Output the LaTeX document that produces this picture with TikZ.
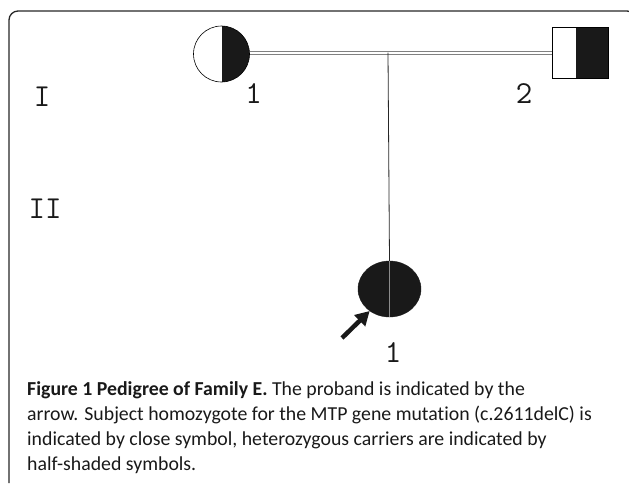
\documentclass[tikz,border=0pt]{standalone}
\usepackage{fontspec}
\setsansfont[Ligatures=NoCommon]{Carlito}
\usetikzlibrary{arrows.meta, positioning, calc, shapes.geometric}

\begin{document}
\begin{tikzpicture}[
    x=1pt, y=-1pt,
    frame/.style={line width=1.3pt, rounded corners=9pt, color=black!85},
    female/.style={circle, draw, inner sep=0pt, minimum size=56pt, line width=0.6pt},
    male/.style={rectangle, draw, inner sep=0pt, minimum width=56pt, minimum height=51pt, line width=0.6pt},
    affected/.style={ellipse, draw=black!90, fill=black!90, inner sep=0pt, minimum width=63pt, minimum height=56pt},
    mating/.style={draw=black!50, double=white, double distance=2pt, line width=1pt},
    descent/.style={line width=0.8pt, color=black!85},
    num/.style={font=\ttfamily\fontsize{32}{36}\selectfont, inner sep=0pt, anchor=base, text=black!90},
    capline/.style={font=\sffamily\fontsize{19.8}{25}\selectfont, inner sep=0pt, anchor=base west, text=black!90}
]
\useasboundingbox (0,0) rectangle (629,483);
\draw[frame] (9,483) -- (9,11) -- (636,11) -- (636,483);

% generation I
\node[female, path picture={\fill[black!90] (path picture bounding box.north) rectangle (path picture bounding box.south east);}] (m1) at (221.5,54) {};
\node[male, path picture={\fill[black!90] ($(path picture bounding box.north west)!0.43!(path picture bounding box.north east)$) rectangle (path picture bounding box.south east);}] (f2) at (580,52.5) {};
\draw[mating] (m1.east |- f2.west) -- (f2.west);
\coordinate (sib) at (388,52.5);

% generation II
\node[affected] (p1) at (389.5,289) {};
\draw[black!45, line width=0.4pt] (p1.north) -- (p1.south);
\draw[descent] (sib) -- (p1.north);
\coordinate (ptr) at (342,338);
\draw[-{Triangle[length=14pt, width=15pt]}, line width=4.5pt, black!90] (ptr) -- (p1.-132);

% labels
\node[num] (gI) at (42,106) {I};
\node[num] (gII) at (45,218) {II};
\node[num] (lm1) at (253.5,103) {1};
\node[num] (lf2) at (524,103) {2};
\node[num] (lp1) at (393,362) {1};

% caption
\node[capline] (cap1) at (27,395) {\textbf{Figure 1 Pedigree of Family E.} The proband is indicated by the};
\node[capline] (cap2) at (27,420) {arrow. Subject homozygote for the MTP gene mutation (c.2611delC) is};
\node[capline] (cap3) at (27,445) {indicated by close symbol, heterozygous carriers are indicated by};
\node[capline] (cap4) at (27,470) {half-shaded symbols.};
\end{tikzpicture}
\end{document}
